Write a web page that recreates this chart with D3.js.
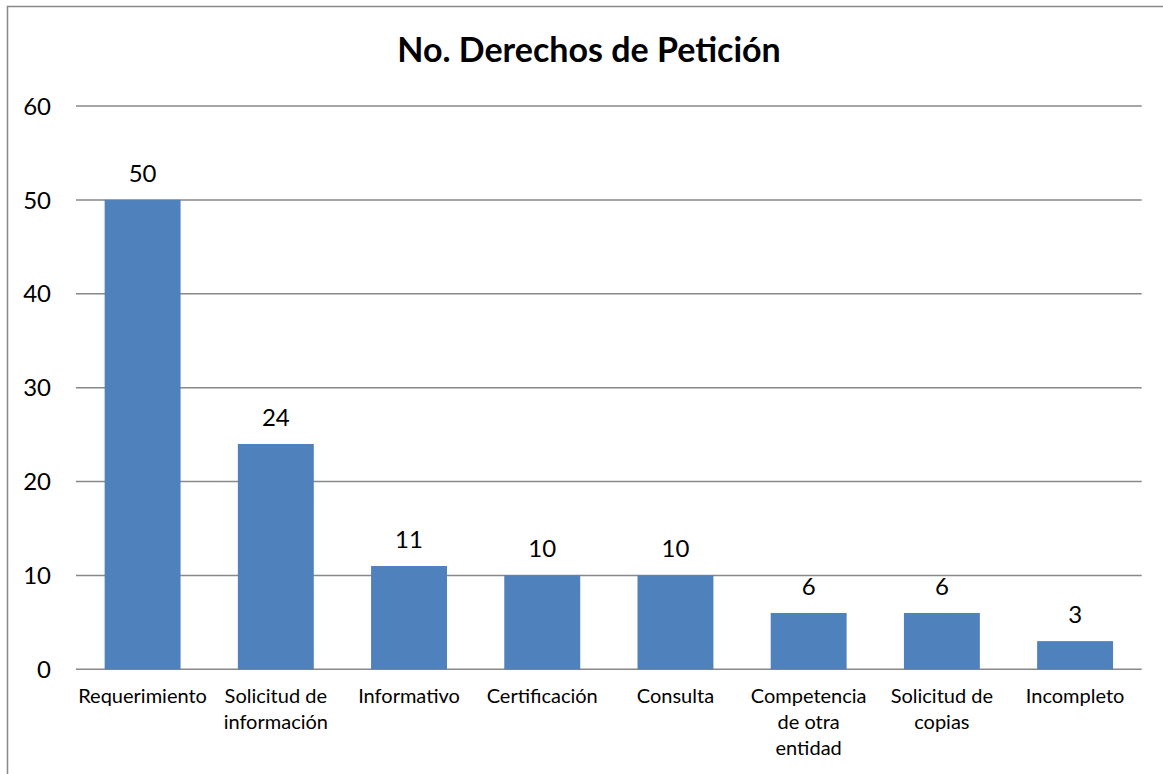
<!DOCTYPE html>
<html>
<head>
<meta charset="utf-8">
<script src="https://cdn.jsdelivr.net/npm/d3@7"></script>
<style>
  body { margin: 0; background: #fff; }
  svg text { font-family: Lato, "Open Sans", sans-serif; fill: #000; }
</style>
</head>
<body>
<div id="chart"></div>
<script>
// data
var categories = ["Requerimiento", "Solicitud de información", "Informativo", "Certificación",
                  "Consulta", "Competencia de otra entidad", "Solicitud de copias", "Incompleto"];
// how each label wraps under its bar
var labelLines = [["Requerimiento"], ["Solicitud de", "información"], ["Informativo"], ["Certificación"],
                  ["Consulta"], ["Competencia", "de otra", "entidad"], ["Solicitud de", "copias"], ["Incompleto"]];
var values = [50, 24, 11, 10, 10, 6, 6, 3];
var yTicks = [0, 10, 20, 30, 40, 50, 60];
var title = "No. Derechos de Petición";

var W = 1163, H = 774;
var m = {left: 76, right: 21.3, top: 106, bottom: 104.7};

var svg = d3.select("#chart").append("svg")
  .attr("width", W).attr("height", H);

// chart frame (only top and left edges fall inside the picture)
svg.append("path")
  .attr("d", "M7.5," + H + "V6.5H" + W)
  .attr("fill", "none").attr("stroke", "#888").attr("stroke-width", 1.5);

var x = d3.scaleBand().domain(categories)
  .range([m.left, W - m.right]).paddingInner(0.43).paddingOuter(0.215);
var y = d3.scaleLinear().domain([0, 60]).range([H - m.bottom, m.top]);

// gridlines
svg.append("g").selectAll("line").data(yTicks).enter().append("line")
  .attr("x1", m.left).attr("x2", W - m.right)
  .attr("y1", function(d){ return y(d); }).attr("y2", function(d){ return y(d); })
  .attr("stroke", "#888").attr("stroke-width", 1.5);

// y tick labels
svg.append("g").selectAll("text").data(yTicks).enter().append("text")
  .attr("x", 51).attr("y", function(d){ return y(d); })
  .attr("dy", "0.36em")
  .attr("text-anchor", "end")
  .style("font-size", "24px")
  .text(function(d){ return d; });

// bars
svg.append("g").selectAll("rect").data(values).enter().append("rect")
  .attr("x", function(d, i){ return x(categories[i]); })
  .attr("width", x.bandwidth())
  .attr("y", function(d){ return y(d); })
  .attr("height", function(d){ return y(0) - y(d); })
  .attr("fill", "#4F81BD");

// value labels
svg.append("g").selectAll("text").data(values).enter().append("text")
  .attr("x", function(d, i){ return x(categories[i]) + x.bandwidth() / 2; })
  .attr("y", function(d){ return y(d) - 18; })
  .attr("text-anchor", "middle")
  .style("font-size", "24px")
  .text(function(d){ return d; });

// category labels
var cat = svg.append("g").selectAll("text").data(categories).enter().append("text")
  .attr("text-anchor", "middle")
  .style("font-size", "20px");
cat.each(function(d, i){
  var cx = x(d) + x.bandwidth() / 2;
  d3.select(this).selectAll("tspan").data(labelLines[i]).enter().append("tspan")
    .attr("x", cx)
    .attr("y", function(t, j){ return 703 + j * 26; })
    .text(function(t){ return t; });
});

// title
svg.append("text")
  .attr("x", 589).attr("y", 62)
  .attr("text-anchor", "middle")
  .style("font-size", "34px").style("font-weight", "bold")
  .text(title);
</script>
</body>
</html>
